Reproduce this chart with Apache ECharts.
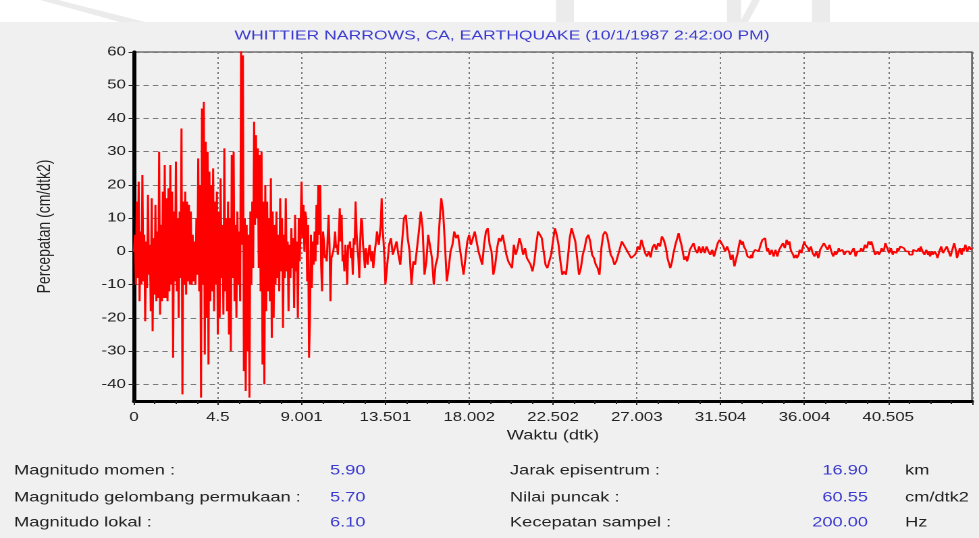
<!DOCTYPE html>
<html>
<head>
<meta charset="utf-8">
<script src="https://cdn.jsdelivr.net/npm/echarts@6/dist/echarts.min.js"></script>
<style>
  html, body { margin: 0; padding: 0; background: #f0f0f0; overflow: hidden; }
  #chart { height: 538px; transform-origin: 0 0; }
</style>
</head>
<body>
<div id="chart"></div>
<script>
// Accelerogram: Whittier Narrows, CA, 1 Oct 1987
const chartTitle = 'WHITTIER NARROWS, CA, EARTHQUAKE (10/1/1987 2:42:00 PM)';
const timeAxisName = 'Waktu (dtk)';
const accelAxisName = 'Percepatan (cm/dtk2)';

const timeTickLabels = ['0', '4.5', '9.001', '13.501', '18.002', '22.502', '27.003', '31.504', '36.004', '40.505'];
const timeTickStep = 4.50055;
const timeMax = 45.0055;
const accelTicks = [-40, -30, -20, -10, 0, 10, 20, 30, 40, 50, 60];
const accelMin = -45;
const accelMax = 60;

// strong shaking, 0 - 9 s, one value every 0.05 s (cm/dtk2)
const strongStart = 0, strongStep = 0.05;
const accelStrong = [
  0, 5, -10, 15, -8, 21, -15, 6, -10, 23,
  -9, 5, -21, 3, -11, 17, -7, 2, -18, 16,
  -24, 4, -13, 14, -15, 6, -14, 30, -19, 8,
  -15, 18, -14, 26, -14, 16, -15, 19, -12, 26,
  -10, 18, -32, 12, -9, 27, -12, 10, -20, 12,
  -8, 37, -43, 15, -10, 18, -13, 15, -9, 14,
  -10, 12, -10, 5, -9, 3, -10, 10, -7, 28,
  -12, 20, -44, 43, -10, 45, -31, 33, -20, 30,
  -34, 24, -15, 20, -12, 25, -18, 15, -10, 18,
  -25, 12, -20, 22, -8, 8, -19, 31, -12, 10,
  -18, 15, -25, 10, -30, 29, -8, 30, -15, 8,
  -20, 12, -10, 6, -15, 60.55, 2, 59, -36, 10,
  -42, 8, -30, 5, -44, 12, -10, 15, -5, 39,
  8, 35, 10, 31, -5, 29, -12, 30, -34, 15,
  -40, 20, -18, 15, -12, 10, -15, 22, -26, 12,
  -20, 8, -10, 12, -8, 5, -12, 16, -6, 10,
  -23, 5, -8, 16, -6, 3, -18, 2, -8, 7,
  -5, 4, -17, 11, -6, 3, -20, 10, -3, 8
];

// coda, 9 - 13.5 s, one value every 0.05 s
const codaStart = 9, codaStep = 0.05;
const accelCoda = [
  21, 4, 14, 0, 12, 10, -9, 8, -32, -20,
  5, -11, 3, -4, 6, -3, 14, 2, 20, 5,
  20, -4, -12, 6, 3, -2, -1, -3, 4, 11,
  2, -15, -2, -1, 0, 2, 6, 1, 2, -1,
  5, 13, 3, 11, -3, -1, -6, 2, -2, -10,
  2, 1, 3, -2, 1, -7, 4, 2, 15, 6,
  1, -2, -8, 3, 10, 9, 2, -1, -5, 1,
  -2, -4, 0, 2, -1, -3, 0, -5, -2, 1,
  3, 6, 4, 2, 5, 8, 16, 7, 3, -2
];

// surface waves, 13.5 - 27 s, one value every 0.1 s
const surfaceStart = 13.5, surfaceStep = 0.1;
const accelSurface = [
  -10, -4, 2, 4, -1, 1, 3, -1, -4, 3,
  10, 11, 4, 0, -10, -3, -4, 1, 6, 12,
  7, -7, -3, 5, 5, -2, -10, -4, -2, 8,
  16, 12, 2, -9, -5, 0, 2, 6, 4, 5,
  1, -3, -7, -2, 3, 5, 2, 4, 6, 3,
  0, -2, -4, 2, 6, 7, 2, 0, -7, -4,
  1, 4, 3, 5, 2, -1, -3, -4, -5, 2,
  -1, 1, 4, 2, -1, 1, -2, -3, -4, -6,
  -3, 2, 6, 5, 4, 0, -4, -5, -5, -1,
  3, 7, 5, 2, -3, -7, -6, -7, -2, 4,
  7, 7, 3, -2, -7, -5, -1, 1, 4, 5,
  3, -1, -2, -4, -5, -7, 1, 5, 6, 5,
  2, -1, -2, -4, -3, -1, 1, 3, 2, 1,
  0, -1, -2, -2, -1
];

// late tail, 27 - 45 s, one value every 0.05 s
const tailStart = 27, tailStep = 0.05;
const accelTail = [
  0, 1.5, 1, 0.5, 2, 3.5, 3, 1.5, 1, -0.5,
  0, -1.5, -1, 0, -1, -1.8, 0, 1.2, 1, 2.2,
  2, 0.5, 1, 2.5, 2, 1.5, 3, 4.5, 5, 3.5,
  3, 1.5, 0, -2, -3, -3.5, -5, -4, -3, -1,
  0, 1.5, 2, 3.5, 4, 5.5, 5, 3, 2, 0.5,
  -1, -2.5, -2, -1.5, -3, -2, -1, 0.5, 0, 1,
  1, 2.5, 2, 0.5, 1, -0.5, 0, 1.5, 1, -0.5,
  0, 1.5, 1, -0.5, 0, 1.5, 1, 0, 0, -1,
  -1, 0.5, 0, -1.5, -1, 0.5, 1, 2.5, 3, 3.5,
  4, 2.5, 2, 1.5, 1, 0, 0, 1.5, 1, 0,
  -1, -2.5, -2, -1, -3, -4.5, -5, -2, -1, 0.5,
  2, 3.5, 3, 2, 3, 1.5, 1, 0.5, 0, -1.5,
  -1, -1.5, -2, -1, -2, -0.5, -1, 0.5, 0, 1,
  1, 0, 1, 2, 2, 3.5, 4, 3, 4, 1.5,
  0, 1, 0, -1, -1, 0.5, 0, -1.5, -1, 0.5,
  0, -1.5, -1, 0.5, 0, 1.5, 1, 2.5, 2, 1,
  2, 3.5, 3, 2, 3, 1, 0, -0.5, -1, -2,
  -2, -1, -2, -2.5, -1, 0.5, 0, -0.5, 1, 2,
  3, 2, 2, 1.5, 1, 0, 0, 1.5, 1, -0.5,
  0, -1.5, -1, 0, -1, -2, -1, 0.5, 0, 1,
  1, 2.5, 3, 1.5, 2, 0.5, 1, 2, 1, 0,
  0, -1.5, -1, 0, -1, -0.5, 0, 1, 0, -0.5,
  0, 0.5, 0, -1, -1, 0, 0, 0.5, 0, -1,
  -1, 0, 0, 1, 0, -1.5, -1, 0, 0, -0.5,
  0, 1, 1, 0, 1, 2, 2, 1, 2, 3,
  3, 2, 3, 2, 1, 0, -1, -1.5, -1, 0,
  -1, -0.5, 0, 1, 1, 0, 1, 2.5, 2, 1,
  1, -0.5, 0, 1, 0, -1, 0, 0.5, 0, -0.5,
  1, 0, 0, 1.5, 1, 2, 2, 1, 1, 0,
  0, 0.5, 0, -1, -1, -0.5, -1, 0.5, 0, 1,
  1, 0, 0, 1, 0, 1.5, 1, 0, 0, -1,
  -1, 0.5, 0, -1, 0, -1.5, -1, 0, -1, -1.5,
  0, 0.5, -1, -2, -1, 0, 0, 1.5, 1, -0.5,
  -1, 0, 0, 1.5, 1, 0, 0, -1.5, -1, 0.5,
  1, 2.5, 2, 0, -2, -1, 0, 1, 0, -1,
  1, 0, 1, 2, 1, 0, 0, 1.5, 1, 0.5,
  1
];

// record summary shown under the plot
const infoLabelsLeft = ['Magnitudo momen :', 'Magnitudo gelombang permukaan :', 'Magnitudo lokal :'];
const infoValuesLeft = ['5.90', '5.70', '6.10'];
const infoLabelsRight = ['Jarak episentrum :', 'Nilai puncak :', 'Kecepatan sampel :'];
const infoValuesRight = ['16.90', '60.55', '200.00'];
const infoUnits = ['km', 'cm/dtk2', 'Hz'];

// The canvas is laid out narrow and stretched sideways to the final width.
const PAGE_W = 979;
const STRETCH = 1.35;
const CANVAS_W = Math.round(PAGE_W / STRETCH);
const sx = PAGE_W / CANVAS_W;
const hx = v => v / sx;

const el = document.getElementById('chart');
el.style.width = CANVAS_W + 'px';
el.style.transform = 'scaleX(' + sx + ')';

function buildSeries() {
  const pts = [];
  const add = (start, step, arr) => {
    arr.forEach((v, i) => pts.push([+(start + i * step).toFixed(3), v]));
  };
  add(strongStart, strongStep, accelStrong);
  add(codaStart, codaStep, accelCoda);
  add(surfaceStart, surfaceStep, accelSurface);
  add(tailStart, tailStep, accelTail);
  return pts;
}

const FONT = 'Liberation Sans, Arial, sans-serif';
const BLUE = '#3a3ad0';
const INFO_FONT = '13.5px ' + FONT;
const rowY = [471, 498, 523];
const MARK = '#ebebeb';
const graphics = [
  // white header strip with a faint emblem behind it
  { type: 'rect', shape: { x: 0, y: 0, width: CANVAS_W, height: 22 }, style: { fill: '#ffffff' }, silent: true },
  { type: 'polygon', shape: { points: [[hx(40), 0], [hx(58), 0], [hx(145), 22], [hx(120), 22]] }, style: { fill: MARK }, silent: true },
  { type: 'rect', shape: { x: hx(556), y: 0, width: hx(18), height: 22 }, style: { fill: MARK }, silent: true },
  { type: 'rect', shape: { x: hx(727), y: 0, width: hx(14), height: 22 }, style: { fill: MARK }, silent: true },
  { type: 'polygon', shape: { points: [[hx(752), 0], [hx(760), 0], [hx(748), 22], [hx(740), 22]] }, style: { fill: MARK }, silent: true },
  { type: 'rect', shape: { x: hx(812), y: 0, width: hx(18), height: 22 }, style: { fill: MARK }, silent: true },
  { type: 'text', x: hx(502), y: 36, style: { text: chartTitle, fill: BLUE, font: '13px ' + FONT, align: 'center', verticalAlign: 'middle' } }
];
rowY.forEach((y, i) => {
  graphics.push(
    { type: 'text', x: hx(14), y, style: { text: infoLabelsLeft[i], fill: '#222', font: INFO_FONT, verticalAlign: 'middle' } },
    { type: 'text', x: hx(330), y, style: { text: infoValuesLeft[i], fill: BLUE, font: INFO_FONT, verticalAlign: 'middle' } },
    { type: 'text', x: hx(510), y, style: { text: infoLabelsRight[i], fill: '#222', font: INFO_FONT, verticalAlign: 'middle' } },
    { type: 'text', x: hx(868), y, style: { text: infoValuesRight[i], fill: BLUE, font: INFO_FONT, align: 'right', verticalAlign: 'middle' } },
    { type: 'text', x: hx(905), y, style: { text: infoUnits[i], fill: '#222', font: INFO_FONT, verticalAlign: 'middle' } }
  );
});

const chart = echarts.init(el, null, { renderer: 'canvas', devicePixelRatio: 2 });
chart.setOption({
  animation: false,
  backgroundColor: '#f0f0f0',
  grid: {
    left: hx(134), right: hx(7), top: 52, bottom: 137,
    show: true, borderColor: '#333', borderWidth: 1, backgroundColor: 'transparent'
  },
  xAxis: {
    type: 'value', min: 0, max: timeMax, interval: timeTickStep,
    name: timeAxisName, nameLocation: 'middle', nameGap: 28,
    nameTextStyle: { color: '#222', fontSize: 13.5, fontFamily: FONT },
    axisLine: { onZero: false, lineStyle: { color: '#000', width: 3 } },
    axisTick: { length: 4, lineStyle: { color: '#222' } },
    minorTick: { show: true, splitNumber: 4, length: 3, lineStyle: { color: '#222' } },
    axisLabel: {
      color: '#222', fontSize: 12.5, fontFamily: FONT, margin: 10,
      formatter: v => { const k = Math.round(v / timeTickStep); return timeTickLabels[k] !== undefined ? timeTickLabels[k] : ''; }
    },
    splitLine: { show: true, lineStyle: { color: '#7a7a7a', width: 1, type: [2, 3] } }
  },
  yAxis: {
    type: 'value', min: accelMin, max: accelMax,
    name: accelAxisName, nameLocation: 'middle', nameGap: 59,
    nameTextStyle: { color: '#222', fontSize: 14, fontFamily: FONT },
    axisLine: { onZero: false, lineStyle: { color: '#000', width: 3 } },
    axisTick: { length: 4, customValues: accelTicks, lineStyle: { color: '#222' } },
    axisLabel: { color: '#222', fontSize: 12.5, fontFamily: FONT, margin: 6, customValues: accelTicks },
    splitLine: { show: true, lineStyle: { color: '#7a7a7a', width: 1, type: [4, 3] } }
  },
  series: [{
    type: 'line', data: buildSeries(), showSymbol: false, sampling: null,
    lineStyle: { color: '#ff0000', width: 1.5 }, clip: true
  }],
  graphic: graphics
});
</script>
</body>
</html>
